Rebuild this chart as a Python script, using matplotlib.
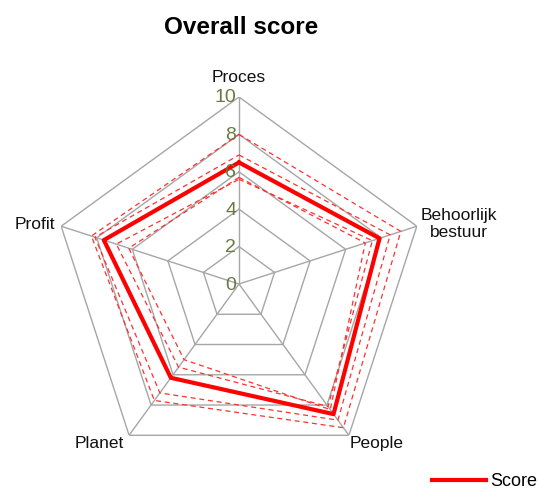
import numpy as np
import matplotlib
matplotlib.use('Agg')
import matplotlib.pyplot as plt

plt.rcParams['font.family'] = ['Liberation Sans', 'DejaVu Sans']

# data
axes_labels = ['Proces', 'Behoorlijk\nbestuur', 'People', 'Planet', 'Profit']
score = [6.5, 7.9, 8.6, 6.2, 7.6]
dashed_series = [
    [8.0, 9.1, 9.5, 7.7, 8.3],
    [6.9, 8.5, 9.0, 7.2, 8.1],
    [5.6, 7.5, 8.1, 5.5, 6.9],
    [5.7, 7.1, 8.3, 5.0, 6.2],
]
levels = [0, 2, 4, 6, 8, 10]

n = len(axes_labels)
theta = np.arange(n) * 2 * np.pi / n
theta_c = np.append(theta, theta[0])

def closed(vals):
    return np.append(vals, vals[0])

fig = plt.figure(figsize=(5.42, 4.88), dpi=100)
ax = fig.add_axes([52 / 542, 17 / 488, 374 / 542, 374 / 488], projection='polar')
ax.set_theta_offset(np.pi / 2)
ax.set_theta_direction(-1)
ax.set_ylim(0, 10)
ax.grid(False)
ax.spines['polar'].set_visible(False)
ax.set_xticks([])
ax.set_yticks([])
ax.patch.set_alpha(0)

grid_col = '#a6a6a6'
for lv in levels[1:]:
    ax.plot(theta_c, [lv] * (n + 1), color=grid_col, lw=1, zorder=1)
for t in theta:
    ax.plot([t, t], [0, 10], color=grid_col, lw=1, zorder=1)

for s in dashed_series:
    ax.plot(theta_c, closed(s), color='#ff3030', lw=0.9, dashes=(4, 3), zorder=2)
ax.plot(theta_c, closed(score), color='#ff0000', lw=3, zorder=3, label='Score')

# radial tick labels
for lv in levels:
    ax.annotate(str(lv), xy=(0, lv), xytext=(-3, -1), textcoords='offset pixels',
                ha='right', va='center', fontsize=14, color='#687a42', zorder=4)

# axis labels
label_pos = [
    ((0, 20), 'center', 'center'),
    ((4, 2), 'left', 'center'),
    ((1, -8), 'left', 'center'),
    ((-5, -8), 'right', 'center'),
    ((-6, 2), 'right', 'center'),
]
for t, lab, (off, ha, va) in zip(theta, axes_labels, label_pos):
    ax.annotate(lab, xy=(t, 10), xytext=off, textcoords='offset pixels',
                ha=ha, va=va, fontsize=12.5, color='#111111', multialignment='center',
                annotation_clip=False)

fig.text(241 / 542, 1 - 28 / 488, 'Overall score', ha='center', va='center',
         fontsize=17.5, fontweight='bold')

fig.legend(loc='center left', bbox_to_anchor=(432 / 542, 1 - 482 / 488),
           frameon=False, fontsize=13, handlelength=3.0, handletextpad=0.25,
           borderpad=0, borderaxespad=0)

fig.savefig('out.png', dpi=100)
